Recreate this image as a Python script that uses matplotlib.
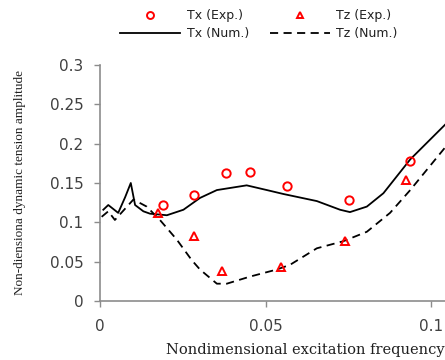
import matplotlib
matplotlib.use("Agg")
import matplotlib.pyplot as plt
from matplotlib.lines import Line2D

# experimental points
tx_exp_f = [0.0191, 0.0283, 0.0380, 0.0452, 0.0565, 0.0752, 0.0936]
tx_exp_t = [0.1214, 0.1341, 0.1631, 0.1635, 0.1456, 0.1287, 0.1783]
tz_exp_f = [0.0175, 0.0283, 0.0370, 0.0546, 0.0741, 0.0924]
tz_exp_t = [0.1117, 0.0828, 0.0382, 0.0429, 0.0764, 0.1533]

# numerical curves
tx_num_f = [0.0010, 0.0025, 0.0055, 0.0076, 0.0093, 0.0106, 0.0131, 0.0151,
            0.0202, 0.0252, 0.0302, 0.0353, 0.0443, 0.0504, 0.0554, 0.0655,
            0.0725, 0.0755, 0.0806, 0.0856, 0.0937, 0.1042]
tx_num_t = [0.116, 0.122, 0.112, 0.132, 0.150, 0.122, 0.114, 0.111,
            0.109, 0.116, 0.131, 0.141, 0.147, 0.141, 0.136, 0.127,
            0.116, 0.113, 0.120, 0.137, 0.180, 0.224]
tz_num_f = [0.0005, 0.0025, 0.0045, 0.0101, 0.0141, 0.0181, 0.0232, 0.0277,
            0.0302, 0.0353, 0.0383, 0.0453, 0.0534, 0.0574, 0.0655, 0.0735,
            0.0806, 0.0876, 0.0937, 0.1042]
tz_num_t = [0.107, 0.114, 0.103, 0.129, 0.120, 0.103, 0.078, 0.052,
            0.040, 0.022, 0.022, 0.031, 0.040, 0.046, 0.067, 0.076,
            0.088, 0.112, 0.141, 0.195]

x_ticks = [0, 0.05, 0.1]
x_tick_labels = ["0", "0.05", "0.1"]
y_ticks = [0, 0.05, 0.1, 0.15, 0.2, 0.25, 0.3]
y_tick_labels = ["0", "0.05", "0.1", "0.15", "0.2", "0.25", "0.3"]

AXIS_GREY = "#8c8c8c"
TEXT_GREY = "#404040"

fig = plt.figure(figsize=(4.45, 3.6), dpi=100)
ax = fig.add_axes([0.2247, 0.1639, 0.7753, 0.6556])

ax.plot(tx_num_f, tx_num_t, color="black", lw=1.3, label="Tx (Num.)")
ax.plot(tz_num_f, tz_num_t, color="black", lw=1.3, ls=(0, (4.5, 3)),
        label="Tz (Num.)")
ax.plot(tx_exp_f, tx_exp_t, ls="none", marker="o", ms=6, mfc="none",
        mec="red", mew=1.4, label="Tx (Exp.)")
ax.plot(tz_exp_f, tz_exp_t, ls="none", marker="^", ms=6, mfc="none",
        mec="red", mew=1.4, label="Tz (Exp.)")

ax.set_xlim(0, 0.1042)
ax.set_ylim(0, 0.3)
ax.set_xticks(x_ticks, x_tick_labels)
ax.set_yticks(y_ticks, y_tick_labels)
ax.tick_params(direction="out", length=4, width=1, color=AXIS_GREY,
               labelcolor=TEXT_GREY, labelsize=11)
ax.tick_params(axis="x", pad=9)
ax.tick_params(axis="y", pad=8)
for side in ("top", "right"):
    ax.spines[side].set_visible(False)
for side in ("left", "bottom"):
    ax.spines[side].set_color(AXIS_GREY)
    ax.spines[side].set_linewidth(1.2)

ax.set_xlabel("Nondimensional excitation frequency", family="DejaVu Serif",
              fontsize=10.5, color="#202020")
ax.xaxis.set_label_coords(0.595, -0.178)
ax.set_ylabel("Non-diensiona dynamic tension amplitude",
              family="Liberation Serif", fontsize=9.5, color="#202020")
ax.yaxis.set_label_coords(-0.215, 0.5)

handles = [
    Line2D([], [], ls="none", marker="o", ms=5, mfc="none", mec="red", mew=1.4),
    Line2D([], [], color="black", lw=1.3),
    Line2D([], [], ls="none", marker="^", ms=5, mfc="none", mec="red", mew=1.4),
    Line2D([], [], color="black", lw=1.3, ls=(0, (4.5, 3))),
]
labels = ["Tx (Exp.)", "Tx (Num.)", "Tz (Exp.)", "Tz (Num.)"]
fig.legend(handles, labels, ncol=2, loc="upper left",
           bbox_to_anchor=(0.245, 1.005), frameon=False, fontsize=9,
           handlelength=4.8, handletextpad=0.5, columnspacing=1.7,
           labelspacing=0.4, labelcolor="#202020")

fig.savefig("out.png", dpi=100)
